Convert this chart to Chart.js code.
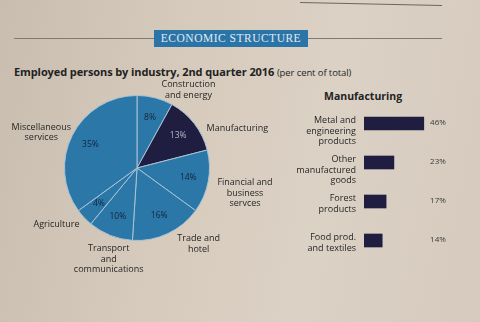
<!DOCTYPE html>
<html>
<head>
<meta charset="utf-8">
<script src="https://cdn.jsdelivr.net/npm/chart.js@4.4.1/dist/chart.umd.min.js"></script>
<style>
  html, body { margin: 0; padding: 0; }
  body {
    width: 480px; height: 322px; overflow: hidden; position: relative;
    background: linear-gradient(100deg, #c9bdaf 0%, #d6cabc 35%, #dbd1c4 65%, #d5cabd 100%);
    font-family: "Open Sans", "Noto Sans", sans-serif; color: #262626;
  }
  .rule { position: absolute; left: 14px; top: 38px; width: 428px; height: 1px; background: #7d7a78; }
  .toprule { position: absolute; left: 300px; top: 2px; width: 142px; height: 1px; background: #6e6560; transform: rotate(1.2deg); transform-origin: left; }
  .band {
    position: absolute; left: 154px; top: 30px; width: 154px; height: 17px;
    background: #2a74a7; color: #e2ebf0; text-align: center;
    font-family: "Liberation Serif", "DejaVu Serif", serif; font-size: 11.5px; line-height: 17px; letter-spacing: 0.5px;
  }
  .title { position: absolute; left: 14px; top: 64px; font-size: 11px; font-weight: 700; color: #222; white-space: nowrap; letter-spacing: -0.1px; }
  .title span { font-weight: 400; font-size: 9.5px; color: #262626; }
  .subhead { position: absolute; left: 324px; top: 89px; font-size: 10.5px; font-weight: 700; color: #222; }
  canvas { position: absolute; }
  #pie { left: 0; top: 80px; }
  #bars { left: 290px; top: 100px; }
</style>
</head>
<body>
<div class="toprule"></div>
<div class="rule"></div>
<div class="band">ECONOMIC STRUCTURE</div>
<div class="title">Employed persons by industry, 2nd quarter 2016 <span>(per cent of total)</span></div>
<div class="subhead">Manufacturing</div>
<canvas id="pie" width="290" height="200"></canvas>
<canvas id="bars" width="190" height="165"></canvas>
<script>
// Employment shares by industry, clockwise from 12 o'clock
const industries = [
  ['Construction', 'and energy'],
  ['Manufacturing'],
  ['Financial and', 'business', 'servces'],
  ['Trade and', 'hotel'],
  ['Transport', 'and', 'communications'],
  ['Agriculture'],
  ['Miscellaneous', 'services']
];
const industryShares = [8, 13, 14, 16, 10, 4, 35];

// Manufacturing breakdown
const mfgBranches = [
  ['Metal and', 'engineering', 'products'],
  ['Other', 'manufactured', 'goods'],
  ['Forest', 'products'],
  ['Food prod.', 'and textiles']
];
const mfgShares = [46, 23, 17, 14];

const BLUE = '#2b77a8';
const NAVY = '#1f1e40';
const TEXT = '#262626';
const FONT = '"Open Sans", "Noto Sans", sans-serif';

// Where each industry name sits, relative to the pie centre in radius units
const namePlacement = [
  { dx: 0.71, dy: -1.08, align: 'center' },
  { dx: 0.96, dy: -0.54, align: 'left' },
  { dx: 1.49, dy: 0.35, align: 'center' },
  { dx: 0.85, dy: 1.05, align: 'center' },
  { dx: -0.39, dy: 1.26, align: 'center' },
  { dx: -1.11, dy: 0.78, align: 'center' },
  { dx: -1.32, dy: -0.49, align: 'center' }
];

const pieLabels = {
  id: 'pieLabels',
  afterDatasetsDraw(chart) {
    const ctx = chart.ctx;
    const meta = chart.getDatasetMeta(0);
    ctx.save();
    ctx.textBaseline = 'middle';
    meta.data.forEach((arc, i) => {
      const { x, y, startAngle, endAngle, outerRadius } = arc.getProps(['x', 'y', 'startAngle', 'endAngle', 'outerRadius'], true);
      const mid = (startAngle + endAngle) / 2;
      // value inside the slice
      ctx.font = '8.5px ' + FONT;
      ctx.textAlign = 'center';
      ctx.fillStyle = i === 1 ? '#b9b6c8' : '#14243a';
      ctx.fillText(industryShares[i] + '%', x + Math.cos(mid) * outerRadius * 0.72, y + Math.sin(mid) * outerRadius * 0.72);
      // industry name outside
      const p = namePlacement[i];
      const lines = industries[i];
      const lh = 10.5;
      const cx = x + p.dx * outerRadius;
      const cy = y + p.dy * outerRadius - (lines.length - 1) * lh / 2;
      ctx.font = '9px ' + FONT;
      ctx.textAlign = p.align;
      ctx.fillStyle = TEXT;
      lines.forEach((ln, k) => ctx.fillText(ln, cx, cy + k * lh));
    });
    ctx.restore();
  }
};

new Chart(document.getElementById('pie'), {
  type: 'pie',
  data: {
    labels: industries.map(l => l.join(' ')),
    datasets: [{
      data: industryShares,
      backgroundColor: industryShares.map((_, i) => i === 1 ? NAVY : BLUE),
      borderColor: '#a8c2d4',
      borderWidth: 1
    }]
  },
  options: {
    responsive: false,
    animation: false,
    layout: { padding: { left: 64, right: 80, top: 15, bottom: 39 } },
    plugins: { legend: { display: false }, tooltip: { enabled: false } }
  },
  plugins: [pieLabels]
});

const barLabels = {
  id: 'barLabels',
  afterDatasetsDraw(chart) {
    const ctx = chart.ctx;
    const ys = chart.scales.y;
    const area = chart.chartArea;
    ctx.save();
    ctx.textBaseline = 'middle';
    mfgBranches.forEach((lines, i) => {
      const yc = ys.getPixelForValue(i);
      ctx.font = '9px ' + FONT;
      ctx.fillStyle = TEXT;
      ctx.textAlign = 'right';
      lines.forEach((ln, k) => ctx.fillText(ln, area.left - 8, yc - 3 + k * 10.5));
      ctx.font = '8px ' + FONT;
      ctx.fillStyle = '#3a3a3a';
      ctx.textAlign = 'center';
      ctx.fillText(mfgShares[i] + '%', area.right + 9, yc - 1);
    });
    ctx.restore();
  }
};

new Chart(document.getElementById('bars'), {
  type: 'bar',
  data: {
    labels: mfgBranches.map(l => l.join(' ')),
    datasets: [{ data: mfgShares, backgroundColor: NAVY, barThickness: 13 }]
  },
  options: {
    indexAxis: 'y',
    responsive: false,
    animation: false,
    layout: { padding: { left: 74, right: 51, top: 4, bottom: 5 } },
    scales: {
      x: { display: false, min: 0, max: 50 },
      y: { display: false }
    },
    plugins: { legend: { display: false }, tooltip: { enabled: false } }
  },
  plugins: [barLabels]
});
</script>
</body>
</html>
